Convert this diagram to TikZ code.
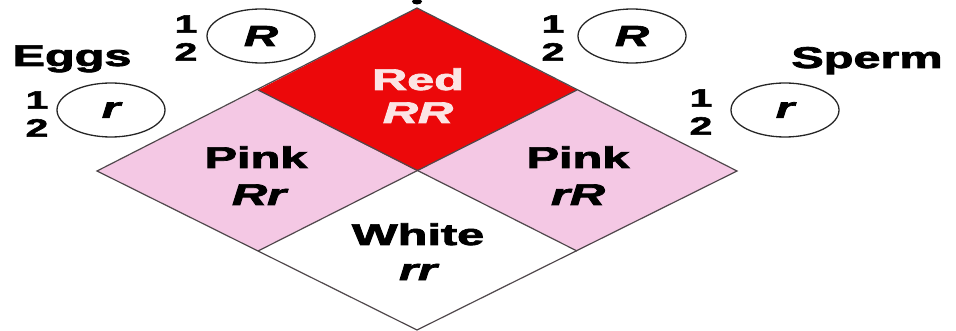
\documentclass[tikz,border=0pt]{standalone}
\usepackage{fontspec}
\setmainfont{Liberation Sans}[BoldFeatures={FakeBold=2.2}, BoldItalicFeatures={FakeBold=2.2}]
\usetikzlibrary{shapes.geometric}
\definecolor{cellred}{RGB}{236,8,10}
\definecolor{cellpink}{RGB}{244,200,228}
\definecolor{redtext}{RGB}{252,228,228}
\definecolor{edgegray}{RGB}{80,72,76}
\newcommand{\widetxt}[1]{\scalebox{1.62}[1]{#1}}
\tikzset{
  cell/.style={draw=edgegray, line width=1.2pt, line join=miter},
  lbl/.style={font=\fontsize{30}{32}\selectfont\bfseries, inner sep=0pt, anchor=base},
  frac/.style={font=\fontsize{25}{28}\selectfont\bfseries, align=center, inner sep=0pt},
  allele/.style={ellipse, draw=black!85, line width=1.3pt, minimum width=108pt, minimum height=54pt, inner sep=0pt,
                 font=\fontsize{29}{30}\selectfont\bfseries\itshape}
}
\begin{document}
\begin{tikzpicture}[x=1pt,y=-1pt]
\useasboundingbox (0,0) rectangle (956,331);
% diamond vertices
\coordinate (T) at (417,8);
\coordinate (L1) at (258,90);
\coordinate (R1) at (577,90);
\coordinate (C) at (417,171);
\coordinate (Lo) at (97,171);
\coordinate (Ro) at (737,171);
\coordinate (BL) at (258,251);
\coordinate (BR) at (577,251);
\coordinate (B) at (417,330);
% cells
\fill[cellpink] (L1) -- (C) -- (BL) -- (Lo) -- cycle;
\fill[cellpink] (R1) -- (Ro) -- (BR) -- (C) -- cycle;
\fill[white] (C) -- (BR) -- (B) -- (BL) -- cycle;
\fill[cellred] (T) -- (R1) -- (C) -- (L1) -- cycle;
\draw[cell] (T) -- (Ro) -- (B) -- (Lo) -- cycle;
\draw[cell] (L1) -- (BR);
\draw[cell] (R1) -- (BL);
% top mark
\fill[black] (417,1.5) ellipse [x radius=5, y radius=3];
% cell labels
\node[lbl, text=redtext] (red) at (418,90) {\widetxt{Red}};
\node[lbl, text=redtext] (RR) at (418,123) {\widetxt{\itshape RR}};
\node[lbl] (pinkL) at (256,168) {\widetxt{Pink}};
\node[lbl] (Rr) at (259,205) {\widetxt{\itshape Rr}};
\node[lbl] (pinkR) at (578,168) {\widetxt{Pink}};
\node[lbl] (rR) at (578,205) {\widetxt{\itshape rR}};
\node[lbl] (white) at (418,245) {\widetxt{White}};
\node[lbl] (rr) at (418,280) {\widetxt{\itshape rr}};
% side labels
\node[lbl] (eggs) at (72,66) {\widetxt{Eggs}};
\node[lbl] (sperm) at (867,68) {\widetxt{Sperm}};
% gametes
\node[allele] (eR) at (261,36) {\widetxt{R}};
\node[allele] (er) at (111,110) {\widetxt{r}};
\node[allele] (sR) at (632,36) {\widetxt{R}};
\node[allele] (sr) at (785,110) {\widetxt{r}};
\node[frac] (feR) at (186,38) {\widetxt{1}\\\widetxt{2}};
\node[frac] (fer) at (37,114) {\widetxt{1}\\\widetxt{2}};
\node[frac] (fsR) at (553,38) {\widetxt{1}\\\widetxt{2}};
\node[frac] (fsr) at (701,112) {\widetxt{1}\\\widetxt{2}};
\end{tikzpicture}
\end{document}
